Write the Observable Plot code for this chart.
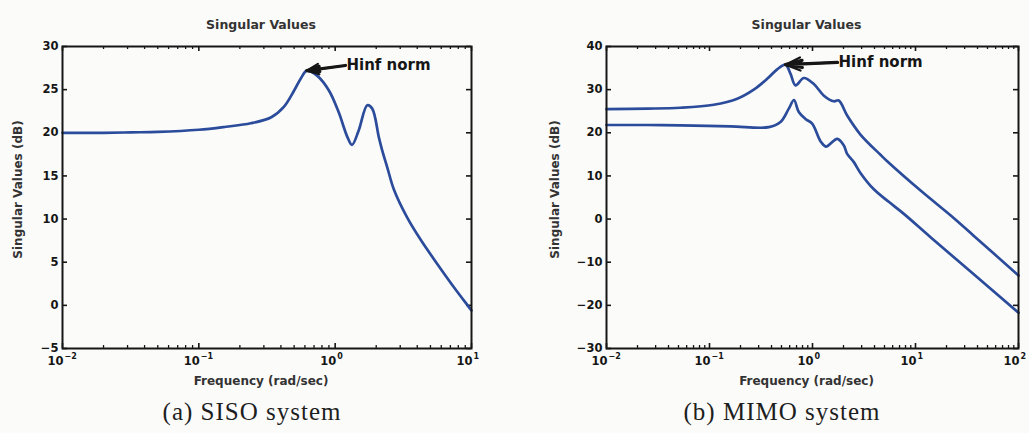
<!DOCTYPE html>
<html>
<head>
<meta charset="utf-8">
<script src="https://cdn.jsdelivr.net/npm/d3@7"></script>
<script src="https://cdn.jsdelivr.net/npm/@observablehq/plot@0.6"></script>
<style>
  body { margin: 0; background: #fbfbfa; width: 1029px; height: 433px; overflow: hidden; position: relative; }
  .panel { position: absolute; top: 0; }
  .panel svg { overflow: visible; }
  .caption { position: absolute; top: 399px; font-family: "Liberation Serif", serif; font-size: 25px; line-height: 26px;
             letter-spacing: 1px; color: #1e1e1e; transform: translateX(-50%); white-space: nowrap; }
</style>
</head>
<body>
<div id="siso" class="panel" style="left:0px"></div>
<div id="mimo" class="panel" style="left:530px"></div>
<div class="caption" style="left:252px">(a) SISO system</div>
<div class="caption" style="left:782px">(b) MIMO system</div>
<script>
// SISO singular value (single curve): frequency in rad/sec, gain in dB
const sisoFreq = [0.01, 0.02, 0.032, 0.05, 0.1, 0.158, 0.24, 0.34, 0.42, 0.5, 0.56, 0.62, 0.74, 0.9, 1.06, 1.23, 1.33, 1.49, 1.72, 1.87, 2.09, 2.21, 2.41, 2.7, 3.37, 4.24, 5.61, 7.43, 9.57, 10];
const sisoDb   = [20.0, 20.0, 20.05, 20.1, 20.35, 20.7, 21.1, 21.8, 23.0, 24.9, 26.3, 27.2, 26.6, 24.9, 22.4, 19.5, 18.6, 20.3, 23.2, 22.8, 19.5, 18.0, 16.0, 13.4, 10.2, 7.6, 4.8, 2.1, -0.2, -0.6];

// MIMO singular values: largest (sigma1) and smallest (sigma2)
const mimoFreq1 = [0.01, 0.025, 0.052, 0.11, 0.186, 0.269, 0.363, 0.454, 0.547, 0.611, 0.684, 0.824, 1.03, 1.29, 1.61, 1.8, 2.17, 2.92, 4.57, 5.31, 11.2, 23.6, 36.9, 100];
const mimoDb1   = [25.5, 25.6, 25.8, 26.5, 27.9, 30.0, 32.5, 34.7, 35.8, 33.7, 31.0, 32.7, 31.3, 28.6, 27.3, 27.5, 24.0, 19.6, 14.9, 13.4, 6.6, 0.2, -3.9, -13.1];
const mimoFreq2 = [0.01, 0.025, 0.052, 0.16, 0.377, 0.489, 0.589, 0.661, 0.736, 0.855, 0.993, 1.2, 1.35, 1.74, 2.01, 2.17, 2.52, 2.92, 3.94, 5.5, 7.71, 14.0, 100];
const mimoDb2   = [21.8, 21.8, 21.7, 21.5, 21.3, 22.5, 25.6, 27.6, 24.8, 23.2, 22.1, 18.0, 16.8, 18.6, 17.1, 15.1, 13.2, 10.7, 6.9, 4.0, 1.2, -4.2, -21.7];

// Axis ticks and labels (x labels are 10 raised to the listed exponents)
const sisoXTicks = [0.01, 0.1, 1, 10];
const sisoXExponents = ["\u22122", "\u22121", "0", "1"];
const sisoYTicks = [-5, 0, 5, 10, 15, 20, 25, 30];
const mimoXTicks = [0.01, 0.1, 1, 10, 100];
const mimoXExponents = ["\u22122", "\u22121", "0", "1", "2"];
const mimoYTicks = [-30, -20, -10, 0, 10, 20, 30, 40];

// Annotation text anchor (arrow tail) in data units
const sisoNoteAt = {freq: 1.19, db: 27.8};
const mimoNoteAt = {freq: 1.75, db: 36.3};

const titleText = "Singular Values";
const xLabelText = "Frequency (rad/sec)";
const yLabelText = "Singular Values (dB)";
const noteText = "Hinf norm";

const lineColor = "#2b4b9b";
const ink = "#161616";

function minorTicks(lo, hi) {
  const out = [];
  for (let e = Math.round(Math.log10(lo)); e < Math.round(Math.log10(hi)); e++)
    for (let m = 2; m <= 9; m++) out.push(m * 10 ** e);
  return out;
}

function panel({width, marginLeft, marginRight, xDomain, yDomain, xTicks, xExponents, yTicks, curves, note, yLabelDx}) {
  const marginTop = 46, marginBottom = 52, height = 400;
  const fw = width - marginLeft - marginRight;
  const fh = height - marginTop - marginBottom;
  const exp = new Map(xTicks.map((t, i) => [t, xExponents[i]]));
  const minors = minorTicks(xDomain[0], xDomain[1]);
  const peak = d3.greatest(curves[0], d => d.db);
  const tickStyle = {stroke: ink, strokeWidth: 1.6};
  return Plot.plot({
    width, height, marginLeft, marginRight, marginTop, marginBottom,
    style: {fontFamily: "DejaVu Sans, sans-serif", fontWeight: "bold", fontSize: "11.5px", color: ink, background: "transparent", overflow: "visible"},
    x: {type: "log", domain: xDomain, axis: null},
    y: {domain: yDomain},
    marks: [
      // y tick labels
      Plot.axisY(yTicks, {anchor: "left", tickSize: 0, tickPadding: 4, label: null, fontSize: 11.5}),
      // x tick labels: base and raised exponent
      Plot.text(xTicks, {x: d => d, frameAnchor: "bottom", text: () => "10", textAnchor: "end", dx: 1, dy: 16, fontSize: 11.5, fill: ink}),
      Plot.text(xTicks, {x: d => d, frameAnchor: "bottom", text: d => exp.get(d), textAnchor: "start", dx: 2, dy: 10, fontSize: 8, fill: ink}),
      // inward ticks on all four sides
      Plot.tickX(xTicks, {x: d => d, insetTop: fh - 5, ...tickStyle}),
      Plot.tickX(xTicks, {x: d => d, insetBottom: fh - 5, ...tickStyle}),
      Plot.tickX(minors, {x: d => d, insetTop: fh - 3, stroke: ink, strokeWidth: 1.3}),
      Plot.tickX(minors, {x: d => d, insetBottom: fh - 3, stroke: ink, strokeWidth: 1.3}),
      Plot.tickY(yTicks, {y: d => d, insetRight: fw - 5, ...tickStyle}),
      Plot.tickY(yTicks, {y: d => d, insetLeft: fw - 5, ...tickStyle}),
      // singular value curves
      ...curves.map(c => Plot.line(c, {x: "freq", y: "db", stroke: lineColor, strokeWidth: 2.7, curve: "catmull-rom"})),
      Plot.frame({stroke: ink, strokeWidth: 2}),
      // H-infinity norm annotation
      Plot.arrow([note], {x1: "freq", y1: "db", x2: () => peak.freq, y2: () => peak.db, stroke: ink, strokeWidth: 2.2, headLength: 11, headAngle: 48}),
      Plot.arrow([note], {x1: "freq", y1: "db", x2: () => peak.freq, y2: () => peak.db, stroke: ink, strokeWidth: 3.2, headLength: 8, headAngle: 24}),
      Plot.text([note], {x: "freq", y: "db", text: () => noteText, textAnchor: "start", dx: 1, fontSize: 15, fill: ink}),
      // titles and axis labels
      Plot.text([titleText], {frameAnchor: "top", dy: -26, dx: -6, fontSize: 12.5, fill: "#333"}),
      Plot.text([xLabelText], {frameAnchor: "bottom", dy: 36, dx: -6, fontSize: 12, fill: "#333"}),
      Plot.text([yLabelText], {frameAnchor: "left", textAnchor: "middle", rotate: -90, dx: yLabelDx, dy: -8, fontSize: 12, fill: "#333"})
    ]
  });
}

const rows = (fs, ds) => fs.map((f, i) => ({freq: f, db: ds[i]}));

document.getElementById("siso").append(panel({
  width: 490, marginLeft: 62, marginRight: 19,
  xDomain: [0.01, 10], yDomain: [-5, 30],
  xTicks: sisoXTicks, xExponents: sisoXExponents, yTicks: sisoYTicks,
  curves: [rows(sisoFreq, sisoDb)],
  note: sisoNoteAt, yLabelDx: -44
}));

document.getElementById("mimo").append(panel({
  width: 499, marginLeft: 76, marginRight: 11,
  xDomain: [0.01, 100], yDomain: [-30, 40],
  xTicks: mimoXTicks, xExponents: mimoXExponents, yTicks: mimoYTicks,
  curves: [rows(mimoFreq1, mimoDb1), rows(mimoFreq2, mimoDb2)],
  note: mimoNoteAt, yLabelDx: -51
}));
</script>
</body>
</html>
